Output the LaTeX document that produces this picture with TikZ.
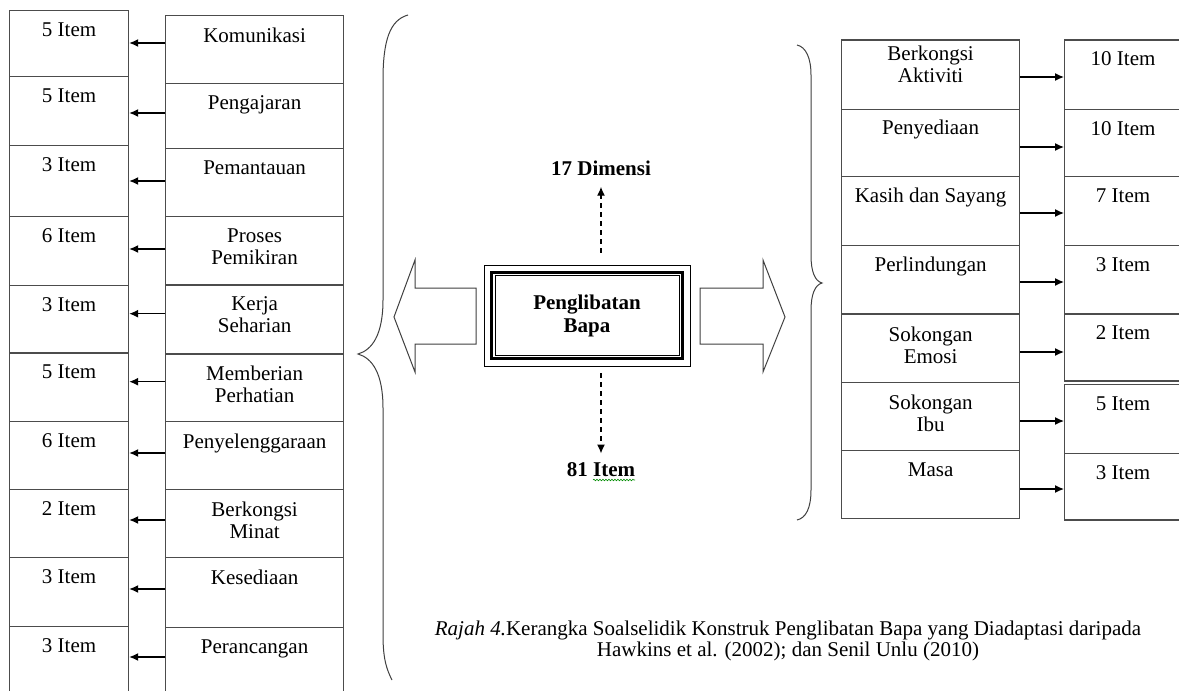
\documentclass[tikz,border=0pt]{standalone}
\usepackage{fontspec}
\setmainfont{Liberation Serif}
\usetikzlibrary{arrows.meta,decorations.pathmorphing}

\begin{document}
\begin{tikzpicture}[x=1pt,y=-1pt,
  box/.style={draw=black!70, line width=1.2pt, anchor=north west, inner sep=0pt, minimum width=#1},
  boxtext/.style={anchor=north, inner sep=0pt, align=center, font=\fontsize{21}{22}\selectfont},
  conn/.style={-{Latex[length=9pt,width=8pt]}, line width=1.3pt},
  dimarrow/.style={-{Latex[length=9pt,width=8pt]}, line width=1.3pt, dash pattern=on 5pt off 4pt},
  bold/.style={font=\fontsize{21}{23}\selectfont\bfseries},
  brace/.style={draw=black!75, line width=1pt}]

 \path[use as bounding box, fill=white] (0,0) rectangle (1179,691);

 \foreach \i/\yi/\hi/\yd/\hd/\off/\cnt/\lab in {
   1/10/66/15/68/28/5 Item/Komunikasi,
   2/76/69/83/64.7/30/5 Item/Pengajaran,
   3/145/71/147.7/68.3/33.3/3 Item/Pemantauan,
   4/216/68.7/216/68.3/33/6 Item/{Proses\\Pemikiran},
   5/284.7/67.6/284.3/69/29.4/3 Item/{Kerja\\Seharian},
   6/352.3/68.7/353.3/67.7/28.4/5 Item/{Memberian\\Perhatian},
   7/421/68/421/68/32/6 Item/Penyelenggaraan,
   8/489/68/489/68/31/2 Item/{Berkongsi\\Minat},
   9/557/69/557/70/32/3 Item/Kesediaan,
   10/626/72/627/72/30/3 Item/Perancangan}
 {
   \node[box=119, minimum height=\hi, label={[boxtext,yshift=-12.5pt]north:\cnt}] (li\i) at (9,\yi) {};
   \node[box=178, minimum height=\hd, label={[boxtext,yshift=-12.5pt]north:\lab}] (ld\i) at (165,\yd) {};
   \coordinate (la\i) at ([yshift=-\off pt]ld\i.north west);
   \draw[conn] (la\i) -- (la\i -| li\i.east);
 }

 \foreach \i/\yd/\hd/\yi/\hi/\off/\cnt/\lab/\ts in {
   1/39.3/69.7/39.3/69.7/37.7/10 Item/{Berkongsi\\Aktiviti}/6.5,
   2/109/66.7/109/66.7/38/10 Item/Penyediaan/11,
   3/175.7/69.3/175.7/69.3/37.3/7 Item/Kasih dan Sayang/12,
   4/245/68.3/245/68.3/37/3 Item/Perlindungan/11.5,
   5/313.3/68.4/313.3/67/38.7/2 Item/{Sokongan\\Emosi}/13,
   6/381.7/68.3/384/68.7/39.3/5 Item/{Sokongan\\Ibu}/13,
   7/450/67.7/452.7/66.6/39/3 Item/Masa/12.5}
 {
   \node[box=178, minimum height=\hd, label={[boxtext,yshift=-\ts pt]north:\lab}] (rd\i) at (841,\yd) {};
   \node[box=117, minimum height=\hi, label={[boxtext,yshift=-12.5pt]north:\cnt}] (ri\i) at (1064,\yi) {};
   \coordinate (ra\i) at ([yshift=-\off pt]rd\i.north east);
   \draw[conn] (ra\i) -- (ra\i -| ri\i.west);
 }

 \node[draw, line width=0.8pt, minimum width=206, minimum height=101, inner sep=0pt, bold, align=center] (pb) at (587,315.5) {Penglibatan\\Bapa};
 \draw[line width=3pt] ([xshift=8pt,yshift=-7.5pt]pb.north west) rectangle ([xshift=-8pt,yshift=7.5pt]pb.south east);
 \draw[line width=0.8pt] ([xshift=11.5pt,yshift=-11pt]pb.north west) rectangle ([xshift=-11.5pt,yshift=11pt]pb.south east);

 \node[bold, anchor=base] (dimtotal) at (601,175) {17 Dimensi};
 \node[bold, anchor=base] (itemtotal) at (601,476) {81 Item};
 \draw[dimarrow, shorten >=8pt] (pb.north -| dimtotal) ++(0,-12) -- (dimtotal.south);
 \draw[dimarrow, shorten >=5pt] (pb.south -| itemtotal) ++(0,7) -- (itemtotal.north);
 \draw[green!55!black, line width=0.6pt, decorate, decoration={snake, amplitude=0.8pt, segment length=3pt}] (593,480) -- (635,480);

 \draw[line width=1pt, black!75] (476,288) -- (415,288) -- (415,260) -- (394,317) -- (415,372) -- (415,344) -- (476,344) -- cycle;
 \draw[line width=1pt, black!75] (700,288) -- (763,288) -- (763,260) -- (785,317) -- (763,372) -- (763,344) -- (700,344) -- cycle;

 \draw[brace] (408,15) .. controls (390,20) and (383,40) .. (383,80) -- (383,300)
   .. controls (383,335) and (372,350) .. (358,354) .. controls (372,358) and (383,373) .. (383,408)
   -- (383,635) .. controls (383,660) and (387,670) .. (392,680);
 \draw[brace] (797,45) .. controls (806,47) and (811,58) .. (811,75) -- (811,255)
   .. controls (811,272) and (815,281) .. (822,283) .. controls (815,285) and (811,294) .. (811,311)
   -- (811,490) .. controls (811,508) and (806,518) .. (797,520);

 \node[anchor=north, align=center, inner sep=0pt, font=\fontsize{21}{21}\selectfont] (caption) at (788,621)
   {\textit{Rajah 4.}Kerangka Soalselidik Konstruk Penglibatan Bapa yang Diadaptasi daripada\\Hawkins et al. (2002); dan Senil Unlu (2010)};
\end{tikzpicture}
\end{document}
